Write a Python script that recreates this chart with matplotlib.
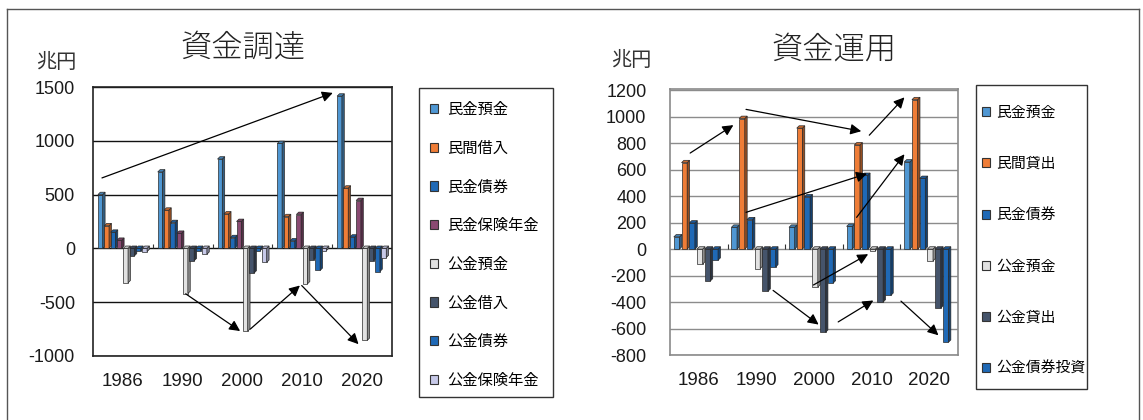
import matplotlib
matplotlib.use("Agg")
import matplotlib.pyplot as plt
from matplotlib.patches import Patch, Rectangle, Polygon
from matplotlib.lines import Line2D
from matplotlib.colors import to_rgb

plt.rcParams['font.family'] = ['Noto Sans CJK JP', 'DejaVu Sans']

# ---------------- data ----------------
years = ['1986', '1990', '2000', '2010', '2020']

# 資金調達 (兆円)
raise_labels = ['民金預金', '民間借入', '民金債券', '民金保険年金',
                '公金預金', '公金借入', '公金債券', '公金保険年金']
raise_private_deposit = [500, 710, 830, 975, 1415]
raise_private_borrow = [210, 355, 320, 295, 560]
raise_private_bonds = [150, 240, 100, 70, 105]
raise_private_insurance = [75, 140, 250, 315, 445]
raise_public_deposit = [-320, -420, -770, -330, -855]
raise_public_borrow = [-70, -115, -230, -105, -115]
raise_public_bonds = [-25, -20, -20, -205, -215]
raise_public_insurance = [-30, -55, -130, -20, -85]

# 資金運用 (兆円)
use_labels = ['民金預金', '民間貸出', '民金債券', '公金預金', '公金貸出', '公金債券投資']
use_private_deposit = [92, 165, 165, 172, 658]
use_private_loans = [653, 987, 914, 787, 1129]
use_private_bonds = [197, 222, 395, 557, 534]
use_public_deposit = [-114, -147, -287, -12, -89]
use_public_loans = [-241, -319, -629, -400, -446]
use_public_bonds = [-84, -135, -256, -350, -704]

raise_ticks = [-1000, -500, 0, 500, 1000, 1500]
use_ticks = [-800, -600, -400, -200, 0, 200, 400, 600, 800, 1000, 1200]

# trend arrows: ((x_from, y_from), (x_to, y_to)) in category / value units
raise_arrows = [((-0.35, 655), (3.51, 1445)),
                ((1.05, -422), (1.96, -768)),
                ((2.13, -750), (2.96, -345)),
                ((2.99, -345), (3.94, -890))]
use_arrows = [((-0.15, 726), (0.60, 937)),
              ((0.82, 1056), (2.82, 891)),
              ((2.96, 861), (3.57, 1147)),
              ((0.82, 278), (2.92, 570)),
              ((2.74, 240), (3.57, 717)),
              ((1.99, -271), (2.94, -38)),
              ((1.29, -312), (2.08, -570)),
              ((2.42, -550), (3.03, -388)),
              ((3.51, -393), (4.16, -651))]

# ---------------- style ----------------
C_LBLUE = '#4f97d3'
C_ORANGE = '#ef7d37'
C_BLUE = '#1f69b6'
C_PURPLE = '#8a4a72'
C_GRAY = '#e2e2e2'
C_SLATE = '#45546b'
C_LAV = '#c7c9e8'
EDGE = '#2a2a2a'

raise_colors = [C_LBLUE, C_ORANGE, C_BLUE, C_PURPLE, C_GRAY, C_SLATE, C_BLUE, C_LAV]
use_colors = [C_LBLUE, C_ORANGE, C_BLUE, C_GRAY, C_SLATE, C_BLUE]

W, H = 1143, 420
fig = plt.figure(figsize=(W / 100, H / 100), dpi=100)


def px_rect(x0, y0, x1, y1):
    return [x0 / W, 1 - y1 / H, (x1 - x0) / W, (y1 - y0) / H]


def shade(c, f):
    return tuple(min(1.0, v * f) for v in to_rgb(c))


def bars_3d(ax, series, colors, start, step, width, depth_px, ax_px):
    xa, xb = ax.get_xlim()
    ya, yb = ax.get_ylim()
    ddx = depth_px * (xb - xa) / ax_px[0]
    ddy = depth_px * (yb - ya) / ax_px[1]
    z = 3.0
    for j in range(len(years)):
        for i, (vals, c) in enumerate(zip(series, colors)):
            v = vals[j]
            left = j + start + i * step
            bot, top = min(0, v), max(0, v)
            ax.bar(left, v, width=width, align='edge', color=c,
                   edgecolor=EDGE, linewidth=0.5, zorder=z)
            side = [(left + width, bot), (left + width, top),
                    (left + width + ddx, top + ddy), (left + width + ddx, bot + ddy)]
            lid = [(left, top), (left + width, top),
                   (left + width + ddx, top + ddy), (left + ddx, top + ddy)]
            ax.add_patch(Polygon(side, closed=True, fc=shade(c, 0.62),
                                 ec=EDGE, lw=0.5, zorder=z))
            ax.add_patch(Polygon(lid, closed=True, fc=shade(c, 0.85),
                                 ec=EDGE, lw=0.5, zorder=z))
            z += 0.01


def arrows(ax, segs):
    for (p, q) in segs:
        ax.annotate('', xy=q, xytext=p, xycoords='data', textcoords='data',
                    annotation_clip=False,
                    arrowprops=dict(arrowstyle='-|>', color='black', lw=0.9,
                                    mutation_scale=16, shrinkA=0, shrinkB=0),
                    zorder=20)


def setup_axis(ax, ticks, ylim, frame_color, grid_color, ypad, xpad, ysize, xsize):
    ax.set_xlim(-0.5, len(years) - 0.5)
    ax.set_ylim(*ylim)
    ax.set_yticks(ticks)
    ax.set_yticklabels([str(t) for t in ticks])
    ax.set_xticks(range(len(years)))
    ax.set_xticklabels(years)
    ax.tick_params(axis='y', length=0, pad=ypad, labelsize=ysize)
    ax.tick_params(axis='x', length=0, pad=xpad, labelsize=xsize)
    for lab in ax.get_xticklabels() + ax.get_yticklabels():
        lab.set_fontfamily('Liberation Sans')
        lab.set_color('#1a1a1a')
    ax.set_axisbelow(True)
    ax.yaxis.grid(True, color=grid_color, lw=1.0)
    for s in ax.spines.values():
        s.set_color(frame_color)
        s.set_linewidth(1.2)
    # category separators on the zero line
    ya, yb = ax.get_ylim()
    ax.vlines([j + 0.5 for j in range(len(years) - 1)], 0, (yb - ya) * 0.018,
              color='#333333', lw=0.8, zorder=2)


# ---------------- 資金調達 ----------------
L = (93, 87, 392, 356)
ax1 = fig.add_axes(px_rect(*L))
setup_axis(ax1, raise_ticks, (-1000, 1500), '#222222', '#111111', 13, 12, 13, 13.5)
raise_series = [raise_private_deposit, raise_private_borrow, raise_private_bonds,
                raise_private_insurance, raise_public_deposit, raise_public_borrow,
                raise_public_bonds, raise_public_insurance]
bars_3d(ax1, raise_series, raise_colors, start=-0.418, step=0.106, width=0.080,
        depth_px=2.4, ax_px=(L[2] - L[0], L[3] - L[1]))
arrows(ax1, raise_arrows)

# ---------------- 資金運用 ----------------
R = (670, 89, 958, 355)
ax2 = fig.add_axes(px_rect(*R))
setup_axis(ax2, use_ticks, (-800, 1210), '#8a8a8a', '#8c8c8c', 17, 12, 13, 13.5)
use_series = [use_private_deposit, use_private_loans, use_private_bonds,
              use_public_deposit, use_public_loans, use_public_bonds]
bars_3d(ax2, use_series, use_colors, start=-0.434, step=0.134, width=0.098,
        depth_px=2.4, ax_px=(R[2] - R[0], R[3] - R[1]))
arrows(ax2, use_arrows)

# ---------------- titles and units ----------------
fig.text(243 / W, 1 - 48 / H, '資金調達', ha='center', va='center',
         fontsize=22.5, color='#222222', fontweight='light')
fig.text(834 / W, 1 - 50 / H, '資金運用', ha='center', va='center',
         fontsize=22.5, color='#222222', fontweight='light')
fig.text(56 / W, 1 - 62 / H, '兆円', ha='center', va='center', fontsize=14.5,
         color='#333333')
fig.text(631 / W, 1 - 61 / H, '兆円', ha='center', va='center', fontsize=14.5,
         color='#333333')


# ---------------- legends ----------------
def legend_box(labels, colors, box, anchor, fontsize, spacing, textpad):
    x0, y0, x1, y1 = box
    fig.patches.append(Rectangle((x0 / W, 1 - y1 / H), (x1 - x0) / W, (y1 - y0) / H,
                                 transform=fig.transFigure, fill=False,
                                 ec='#333333', lw=1.0))
    handles = [Patch(facecolor=c, edgecolor='#333333', lw=0.8) for c in colors]
    fig.legend(handles, labels, loc='upper left',
               bbox_to_anchor=(anchor[0] / W, 1 - anchor[1] / H),
               bbox_transform=fig.transFigure, frameon=False,
               fontsize=fontsize, labelspacing=spacing,
               handlelength=0.55, handleheight=0.55, handletextpad=textpad,
               borderpad=0, borderaxespad=0)


legend_box(raise_labels, raise_colors, (419, 88, 553, 397), (430, 101), 11, 1.42, 0.6)
legend_box(use_labels, use_colors, (976, 85, 1087, 389), (982, 106), 10.7, 2.5, 0.4)

# outer frame
for xs, ys in [((7, 7), (9, 425)), ((7, 1139), (9, 9)), ((1139, 1139), (9, 425))]:
    fig.add_artist(Line2D([x / W for x in xs], [1 - y / H for y in ys],
                          transform=fig.transFigure, color='#555555', lw=1.0))

fig.savefig('out.png', dpi=100)
